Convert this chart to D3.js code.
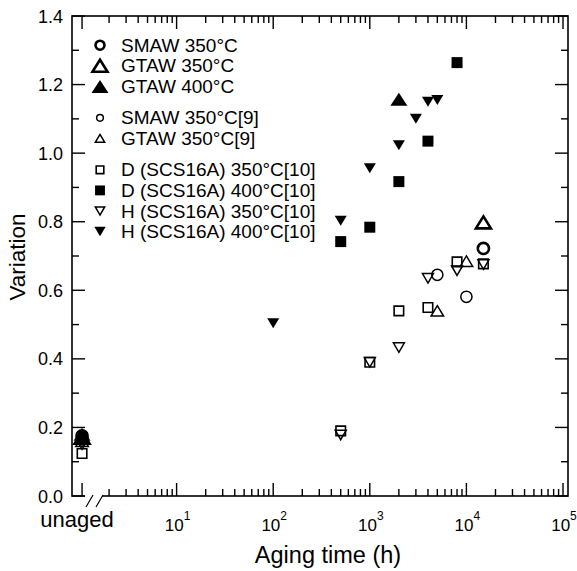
<!DOCTYPE html>
<html lang="en">
<head>
<meta charset="utf-8">
<title>Variation vs aging time</title>
<script src="https://d3js.org/d3.v7.min.js"></script>
<style>
  body { margin: 0; background: #fff; }
  svg { display: block; font-family: "Liberation Sans", Arial, sans-serif; }
  .lbl { font-size: 18px; fill: #000; }
  .legend text { font-size: 19px; fill: #000; }
</style>
</head>
<body>
<svg width="577" height="571"></svg>
<script>
// ---- data ----
const seriesNames = ["SMAW 350°C", "GTAW 350°C", "GTAW 400°C", "SMAW 350°C[9]", "GTAW 350°C[9]",
  "D (SCS16A) 350°C[10]", "D (SCS16A) 400°C[10]", "H (SCS16A) 350°C[10]", "H (SCS16A) 400°C[10]"];

const smaw350Time = ["unaged", 15000];
const smaw350Var  = [0.175, 0.722];
const gtaw350Time = ["unaged", 15000];
const gtaw350Var  = [0.17, 0.798];
const gtaw400Time = ["unaged", 2000];
const gtaw400Var  = [0.18, 1.157];
const smaw350RefTime = ["unaged", 5000, 10000];
const smaw350RefVar  = [0.165, 0.645, 0.581];
const gtaw350RefTime = ["unaged", 5000, 10000];
const gtaw350RefVar  = [0.16, 0.54, 0.685];
const d350Time = ["unaged", 500, 1000, 2000, 4000, 8000, 15000];
const d350Var  = [0.124, 0.19, 0.39, 0.54, 0.55, 0.683, 0.677];
const d400Time = ["unaged", 500, 1000, 2000, 4000, 8000];
const d400Var  = [0.17, 0.742, 0.784, 0.917, 1.035, 1.264];
const h350Time = ["unaged", 500, 1000, 2000, 4000, 8000, 15000];
const h350Var  = [0.15, 0.178, 0.39, 0.433, 0.635, 0.657, 0.675];
const h400Time = ["unaged", 100, 500, 1000, 2000, 3000, 4000, 5000];
const h400Var  = [0.168, 0.504, 0.803, 0.956, 1.023, 1.10, 1.15, 1.155];

const yTicks = [0, 0.2, 0.4, 0.6, 0.8, 1.0, 1.2, 1.4];
const xMajor = [10, 100, 1000, 10000, 100000];
const xExp = ["1", "2", "3", "4", "5"];

// marker styles (shape, size, fill, stroke width, legend scale)
const styles = [
  {shape: "circle", r: 5.6, fill: false, sw: 2.6, lk: 0.8},
  {shape: "up", w: 15, h: 12, fill: false, sw: 2.6, lk: 1},
  {shape: "up", w: 17, h: 13, fill: true, sw: 0, lk: 1},
  {shape: "circle", r: 5.6, fill: false, sw: 1.5, lk: 0.6},
  {shape: "up", w: 12.5, h: 10.5, fill: false, sw: 1.5, lk: 0.75},
  {shape: "square", a: 9.5, fill: false, sw: 1.6, lk: 0.8},
  {shape: "square", a: 11, fill: true, sw: 0, lk: 0.9},
  {shape: "down", w: 11, h: 9.5, fill: false, sw: 1.5, lk: 0.85},
  {shape: "down", w: 12, h: 10, fill: true, sw: 0, lk: 0.95}
];

const series = [
  [smaw350Time, smaw350Var], [gtaw350Time, gtaw350Var], [gtaw400Time, gtaw400Var],
  [smaw350RefTime, smaw350RefVar], [gtaw350RefTime, gtaw350RefVar],
  [d350Time, d350Var], [d400Time, d400Var], [h350Time, h350Var], [h400Time, h400Var]
].map((s, i) => ({
  name: seriesNames[i], style: styles[i],
  points: s[0].map((t, j) => ({t: t, v: s[1][j]}))
}));

const svg = d3.select("svg");

const plotL = 72, plotR = 568, plotT = 16, plotB = 496;
const x = d3.scaleLog().domain([1, 1e5]).range([80, 563]);
const y = d3.scaleLinear().domain([0, 1.4]).range([plotB, plotT]);
const unagedX = x(1.05);
const xPos = t => t === "unaged" ? unagedX : x(t);

function markerPath(st, k) {
  k = k || 1;
  if (st.shape === "circle") {
    const r = st.r * k;
    return `M${r},0A${r},${r} 0 1,1 ${-r},0A${r},${r} 0 1,1 ${r},0Z`;
  }
  if (st.shape === "square") {
    const h = st.a * k / 2;
    return `M${-h},${-h}h${2 * h}v${2 * h}h${-2 * h}Z`;
  }
  const hw = st.w * k / 2, hh = st.h * k / 2;
  if (st.shape === "up") return `M0,${-hh}L${hw},${hh}L${-hw},${hh}Z`;
  return `M0,${hh}L${hw},${-hh}L${-hw},${-hh}Z`;
}

// frame box
svg.append("rect")
  .attr("x", plotL).attr("y", plotT)
  .attr("width", plotR - plotL).attr("height", plotB - plotT)
  .attr("fill", "none").attr("stroke", "#000").attr("stroke-width", 1.6);

// x ticks: minor 2..9 per decade, majors, plus the "unaged" tick
const xMinor = x.ticks().filter(v => !xMajor.includes(v) && v > 1.5);
const xTickList = xMinor.map(v => ({px: x(v), len: 7}))
  .concat(xMajor.map(v => ({px: x(v), len: 13})))
  .concat([{px: unagedX, len: 13}]);

// y ticks: majors every 0.2, minors between
const yMinor = d3.range(1, 14, 2).map(d => d / 10);
const yTickList = yMinor.map(v => ({py: y(v), len: 7}))
  .concat(yTicks.map(v => ({py: y(v), len: 13})));

const tickG = svg.append("g").attr("stroke", "#000").attr("stroke-width", 1.5);
tickG.selectAll("rect.xb").data(xTickList).join("rect")
  .attr("x", d => d.px - 0.7).attr("width", 1.4)
  .attr("y", d => plotB - d.len).attr("height", d => d.len)
  .attr("fill", "#000").attr("stroke", "none");
tickG.selectAll("rect.xt").data(xTickList).join("rect")
  .attr("x", d => d.px - 0.7).attr("width", 1.4)
  .attr("y", plotT).attr("height", d => d.len)
  .attr("fill", "#000").attr("stroke", "none");
tickG.selectAll("rect.yl").data(yTickList).join("rect")
  .attr("x", plotL).attr("width", d => d.len)
  .attr("y", d => d.py - 0.7).attr("height", 1.4)
  .attr("fill", "#000").attr("stroke", "none");
tickG.selectAll("rect.yr").data(yTickList).join("rect")
  .attr("x", d => plotR - d.len).attr("width", d => d.len)
  .attr("y", d => d.py - 0.7).attr("height", 1.4)
  .attr("fill", "#000").attr("stroke", "none");

// axis break on the bottom line
svg.append("rect").attr("x", 85).attr("y", plotB - 2).attr("width", 17).attr("height", 4).attr("fill", "#fff");
svg.append("path").attr("d", "M86,507L93,495M96,507L103,495")
  .attr("fill", "none").attr("stroke", "#000").attr("stroke-width", 1.2);

// y tick labels
svg.append("g").selectAll("text").data(yTicks).join("text")
  .attr("class", "lbl").attr("text-anchor", "end")
  .attr("x", 63).attr("y", d => y(d) + 6.5)
  .text(d3.format(".1f"));

// x tick labels (10^n)
const xl = svg.append("g").selectAll("text").data(xMajor).join("text")
  .attr("text-anchor", "middle").attr("x", d => x(d) + 1).attr("y", 531)
  .style("font-size", "17px");
xl.append("tspan").text("10");
xl.append("tspan").attr("dy", -11).style("font-size", "12px").text((d, i) => xExp[i]);

svg.append("text").attr("x", 77).attr("y", 527).attr("text-anchor", "middle")
  .style("font-size", "22px").text("unaged");

// axis titles
svg.append("text").attr("x", 328).attr("y", 563).attr("text-anchor", "middle")
  .style("font-size", "23.5px").text("Aging time (h)");
svg.append("text").attr("transform", "translate(25,257) rotate(-90)").attr("text-anchor", "middle")
  .style("font-size", "22.5px").text("Variation");

// data points
series.forEach(s => {
  svg.append("g").selectAll("path").data(s.points).join("path")
    .attr("transform", d => `translate(${xPos(d.t)},${y(d.v)})`)
    .attr("d", markerPath(s.style))
    .attr("fill", s.style.fill ? "#000" : "none")
    .attr("stroke", "#000")
    .attr("stroke-width", s.style.sw)
    .attr("stroke-linejoin", "miter");
});

// legend
const groupOf = [0, 0, 0, 1, 1, 2, 2, 2, 2];
const lg = svg.append("g").attr("class", "legend");
const rows = lg.selectAll("g").data(series).join("g")
  .attr("transform", (d, i) => `translate(0,${51.7 + i * 20.6 + groupOf[i] * 10.8})`);
rows.append("path")
  .attr("transform", "translate(100,-6.5)")
  .attr("d", d => markerPath(d.style, d.style.lk))
  .attr("fill", d => d.style.fill ? "#000" : "none")
  .attr("stroke", "#000")
  .attr("stroke-width", d => d.style.sw);
rows.append("text").attr("x", 121).attr("y", 0).text(d => d.name);
</script>
</body>
</html>
